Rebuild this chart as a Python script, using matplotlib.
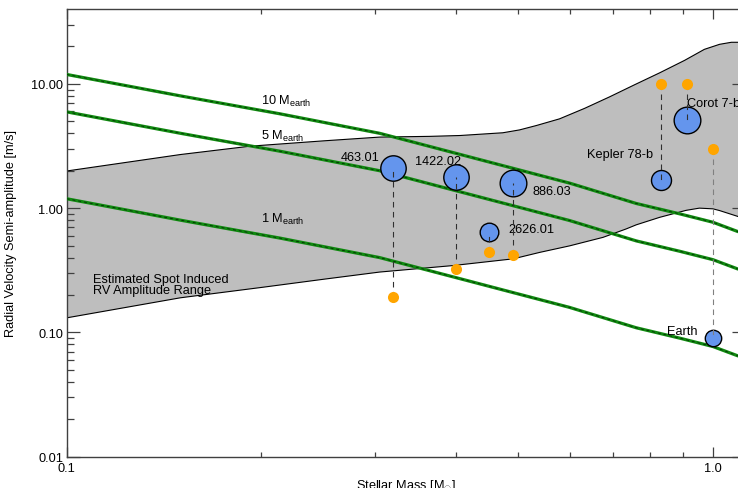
import numpy as np
import matplotlib.pyplot as plt
from matplotlib.ticker import FixedLocator, NullFormatter

plt.rcParams['font.family'] = ['Liberation Sans', 'DejaVu Sans']
plt.rcParams['mathtext.fontset'] = 'custom'
plt.rcParams['mathtext.rm'] = 'Liberation Sans'
plt.rcParams['mathtext.it'] = 'Liberation Sans'
plt.rcParams['font.size'] = 9.2

# spot-induced RV amplitude range (upper / lower envelope)
band_up_m = [0.1, 0.15, 0.192, 0.25, 0.305, 0.3645, 0.406, 0.473, 0.502, 0.533, 0.579, 0.633, 0.692, 0.756,
             0.827, 0.904, 0.970, 1.024, 1.068, 1.12]
band_up_k = [1.99, 2.70, 3.15, 3.48, 3.73, 3.78, 3.84, 4.04, 4.26, 4.62, 5.23, 6.35, 7.86, 9.82,
             12.26, 15.45, 18.95, 20.8, 21.6, 21.6]
band_lo_m = [0.1, 0.15, 0.2, 0.25, 0.305, 0.396, 0.491, 0.540, 0.600, 0.676, 0.734, 0.761, 0.827, 0.909,
             0.953, 1.0, 1.024, 1.091, 1.12]
band_lo_k = [0.131, 0.190, 0.230, 0.268, 0.306, 0.345, 0.391, 0.441, 0.497, 0.582, 0.68, 0.734, 0.843, 0.96,
             1.0, 0.987, 0.956, 0.86, 0.82]

# RV semi-amplitude of a 1 Earth-mass planet vs. stellar mass
earth_line_m = [0.1, 0.15, 0.2138, 0.305, 0.4206, 0.600, 0.761, 0.888, 1.0, 1.091, 1.12]
earth_line_k = [1.19, 0.80, 0.574, 0.40, 0.258, 0.159, 0.109, 0.090, 0.077, 0.065, 0.0625]
line_masses = [1, 5, 10]

# planets: stellar mass, measured K, spot-induced K
planet_names = ['463.01', '1422.02', '886.03', '2626.01', 'Kepler 78-b', 'Corot 7-b', 'Earth']
star_mass = [0.320, 0.400, 0.491, 0.450, 0.831, 0.911, 1.0]
planet_k = [2.10, 1.77, 1.59, 0.641, 1.67, 5.16, 0.09]
spot_k = [0.192, 0.325, 0.42, 0.443, 10.0, 10.0, 3.0]
marker_size = [18.3, 18.3, 19.2, 13.4, 14.4, 19.2, 11.8]

fig = plt.figure(figsize=(7.38, 4.89), dpi=100)
ax = fig.add_axes([0.0904, 0.064, 0.9187, 0.9155])
ax.set_xscale('log')
ax.set_yscale('log')
ax.set_xlim(0.1, 1.12)
ax.set_ylim(0.01, 40)

# shaded range
poly_m = band_up_m + band_lo_m[::-1]
poly_k = band_up_k + band_lo_k[::-1]
ax.fill(poly_m, poly_k, facecolor='#bebebe', edgecolor='none', zorder=1)
ax.plot(band_up_m, band_up_k, color='black', lw=0.8, zorder=2)
ax.plot(band_lo_m, band_lo_k, color='black', lw=0.8, zorder=2)

# constant planet mass curves
for mp in line_masses:
    k = np.array(earth_line_k) * mp
    ax.plot(earth_line_m, k, color='#108a10', lw=2.3, zorder=3, solid_capstyle='butt')
    ax.plot(earth_line_m, k, color='black', lw=0.7, alpha=0.6, dashes=(3, 3), zorder=3)

ax.text(0.2, 6.9, r'10 M$_{\mathrm{earth}}$', ha='left', va='baseline')
ax.text(0.2, 3.61, r'5 M$_{\mathrm{earth}}$', ha='left', va='baseline')
ax.text(0.2, 0.772, r'1 M$_{\mathrm{earth}}$', ha='left', va='baseline')

# planets and their spot-induced amplitudes
for i, name in enumerate(planet_names):
    lc = '#808080' if name == 'Earth' else '#303030'
    ax.plot([star_mass[i], star_mass[i]], [spot_k[i], planet_k[i]], color=lc,
            lw=0.8, dashes=(5, 4), zorder=6)
    ax.plot(star_mass[i], planet_k[i], 'o', ms=marker_size[i], mfc='#6495ed',
            mec='black', mew=1.0, zorder=5)
    ax.plot(star_mass[i], spot_k[i], 'o', ms=8, mfc='#ffa500', mec='none', zorder=7)

ax.text(0.305, 2.42, '463.01', ha='right', va='baseline')
ax.text(0.3456, 2.27, '1422.02', ha='left', va='baseline')
ax.text(0.5255, 1.30, '886.03', ha='left', va='baseline')
ax.text(0.4826, 0.641, '2626.01', ha='left', va='baseline')
ax.text(0.809, 2.57, 'Kepler 78-b', ha='right', va='baseline')
ax.text(0.913, 6.69, 'Corot 7-b', ha='left', va='baseline')
ax.text(0.947, 0.0974, 'Earth', ha='right', va='baseline')
ax.text(0.110, 0.254, 'Estimated Spot Induced', ha='left', va='baseline')
ax.text(0.110, 0.207, 'RV Amplitude Range', ha='left', va='baseline')

# axes styling
ax.xaxis.set_major_locator(FixedLocator([0.1, 1.0]))
ax.xaxis.set_minor_locator(FixedLocator([0.2, 0.3, 0.4, 0.5, 0.6, 0.7, 0.8, 0.9]))
ax.set_xticklabels(['0.1', '1.0'])
ax.xaxis.set_minor_formatter(NullFormatter())
yminor = [d * m for d in [0.01, 0.1, 1, 10] for m in range(2, 10)]
ax.yaxis.set_major_locator(FixedLocator([0.01, 0.1, 1, 10]))
ax.yaxis.set_minor_locator(FixedLocator([v for v in yminor if v < 40]))
ax.set_yticklabels(['0.01', '0.10', '1.00', '10.00'])
ax.yaxis.set_minor_formatter(NullFormatter())

ax.tick_params(axis='both', which='both', direction='in', top=True, right=True,
               color='#404040', width=0.9)
ax.tick_params(axis='x', which='major', length=7.2, pad=4)
ax.tick_params(axis='x', which='minor', length=3.3)
ax.tick_params(axis='y', which='major', length=9.4, pad=2.5)
ax.tick_params(axis='y', which='minor', length=4.8)
for s in ax.spines.values():
    s.set_color('#404040')
    s.set_linewidth(1.0)

ax.set_xlabel(r'Stellar Mass [M$_{\odot}$]')
ax.set_ylabel('Radial Velocity Semi-amplitude [m/s]')
ax.xaxis.set_label_coords(0.5, -0.045)
ax.yaxis.set_label_coords(-0.0733, 0.5)

fig.savefig('out.png', dpi=100)
